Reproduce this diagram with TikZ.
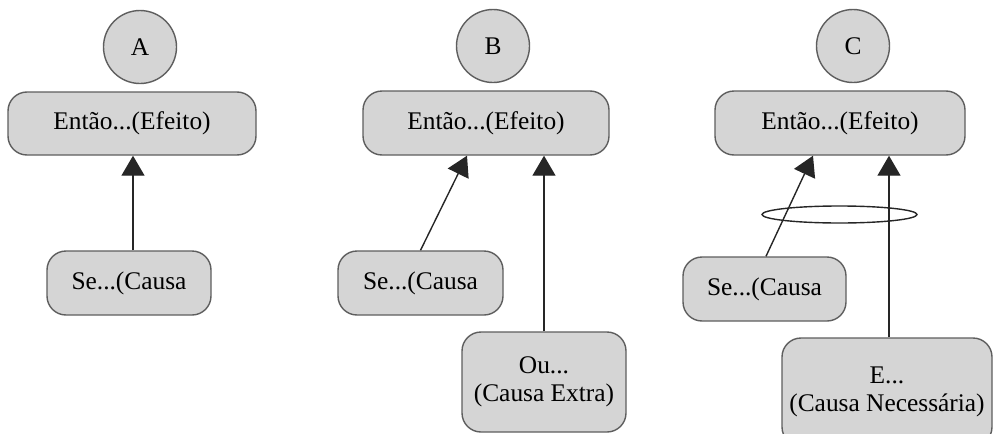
\documentclass[tikz,border=0pt]{standalone}
\usepackage{fontspec}
\setmainfont{Liberation Serif}
\usetikzlibrary{arrows.meta}
\definecolor{boxfill}{HTML}{D5D5D5}
\definecolor{boxline}{HTML}{5E5E5E}
\definecolor{arrline}{HTML}{262626}
\tikzset{
  x=1pt, y=-1pt,
  every node/.style={font=\fontsize{25.4}{28}\selectfont, text=black, inner sep=0pt},
  label circle/.style={circle, draw=boxline, fill=boxfill, line width=1.4pt, minimum size=73pt},
  stepbox/.style={rectangle, rounded corners=19pt, draw=boxline, fill=boxfill, line width=1.4pt, align=center},
  link/.style={draw=arrline, line width=1.4pt, -{Triangle[width=23pt,length=20pt]}},
  ring/.style={draw=arrline, line width=1.4pt}
}
\begin{document}
\begin{tikzpicture}
\useasboundingbox (0,0) rectangle (1002,434);

% Panel A: single cause
\node[label circle] (cA) at (140,47) {A};
\node[stepbox, minimum width=248pt, minimum height=63pt] (eA) at (132,123.5) {Então...(Efeito)};
\node[stepbox, minimum width=164pt, minimum height=64pt] (sA) at (129,283) {Se...(Causa};
\draw[link] ([xshift=4pt]sA.north) -- ([xshift=4pt]sA.north |- eA.south);

% Panel B: alternative causes
\node[label circle] (cB) at (493,46) {B};
\node[stepbox, minimum width=246pt, minimum height=64pt] (eB) at (486,123) {Então...(Efeito)};
\node[stepbox, minimum width=165pt, minimum height=64pt] (sB) at (420.5,283) {Se...(Causa};
\node[stepbox, minimum width=164pt, minimum height=100pt] (oB) at (544,382) {Ou...\\(Causa Extra)};
\draw[link] (sB.north) -- ([xshift=-19pt]eB.south);
\draw[link] (oB.north) -- (oB.north |- eB.south);

% Panel C: jointly necessary causes
\node[label circle] (cC) at (853,46) {C};
\node[stepbox, minimum width=250pt, minimum height=64pt] (eC) at (840,123) {Então...(Efeito)};
\node[stepbox, minimum width=163pt, minimum height=64pt] (sC) at (764.5,289) {Se...(Causa};
\node[stepbox, minimum width=210pt, minimum height=108pt] (nC) at (887,392) {E...\\(Causa Necessária)};
\draw[link] ([xshift=1.5pt]sC.north) -- ([xshift=-27pt]eC.south);
\draw[link] ([xshift=2pt]nC.north) -- ([xshift=2pt]nC.north |- eC.south);
\draw[ring] (839.5,214.5) ellipse [x radius=77.5pt, y radius=8.5pt];
\end{tikzpicture}
\end{document}
